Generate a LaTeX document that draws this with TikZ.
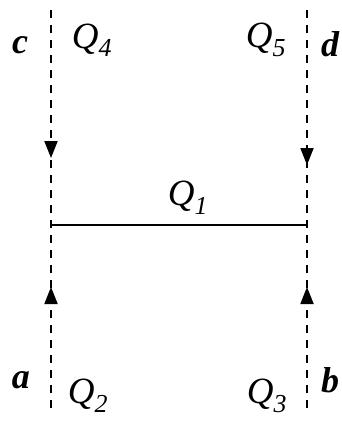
\documentclass[tikz,border=0pt]{standalone}
\usepackage{fontspec}
\setmainfont{Liberation Serif}
\usetikzlibrary{arrows.meta,calc}
\begin{document}
\begin{tikzpicture}[x=1pt,y=-1pt,
  guide/.style={line width=1.8pt,dash pattern=on 8pt off 7pt},
  tipline/.style={line width=1.8pt,-{Triangle[width=13pt,length=17pt]}},
  barline/.style={line width=1.8pt},
  lab/.style={font=\fontsize{36}{40}\selectfont\bfseries\itshape,inner sep=0pt},
  qlab/.style={font=\fontsize{37}{40}\selectfont\itshape,inner sep=0pt}]
\useasboundingbox (0,0) rectangle (342,421);
\coordinate (lt) at (51,10);
\coordinate (la) at (51,158);
\coordinate (lj) at (51,225);
\coordinate (lb) at (51,287);
\coordinate (le) at (51,414);
\coordinate (rt) at (307,10);
\coordinate (ra) at (307,165);
\coordinate (rj) at (307,225);
\coordinate (rb) at (307,287);
\coordinate (re) at (307,414);
\draw[guide] (lt) -- (le);
\draw[guide] (rt) -- (re);
\draw[tipline] ($(la)+(0,-4)$) -- (la);
\draw[tipline] ($(ra)+(0,-4)$) -- (ra);
\draw[tipline] ($(lb)+(0,4)$) -- (lb);
\draw[tipline] ($(rb)+(0,4)$) -- (rb);
\draw[barline] (lj) -- (rj);
\node[lab] (c) at (20,45) {c};
\node[lab] (d) at (330,44) {d};
\node[lab] (a) at (21,380) {a};
\node[lab] (b) at (330,380) {b};
\node[qlab] (q4) at (92,40) {Q\textsubscript{4}};
\node[qlab] (q5) at (266,40) {Q\textsubscript{5}};
\node[qlab] (q1) at (188,198) {Q\textsubscript{1}};
\node[qlab] (q2) at (88,396) {Q\textsubscript{2}};
\node[qlab] (q3) at (267,396) {Q\textsubscript{3}};
\end{tikzpicture}
\end{document}
